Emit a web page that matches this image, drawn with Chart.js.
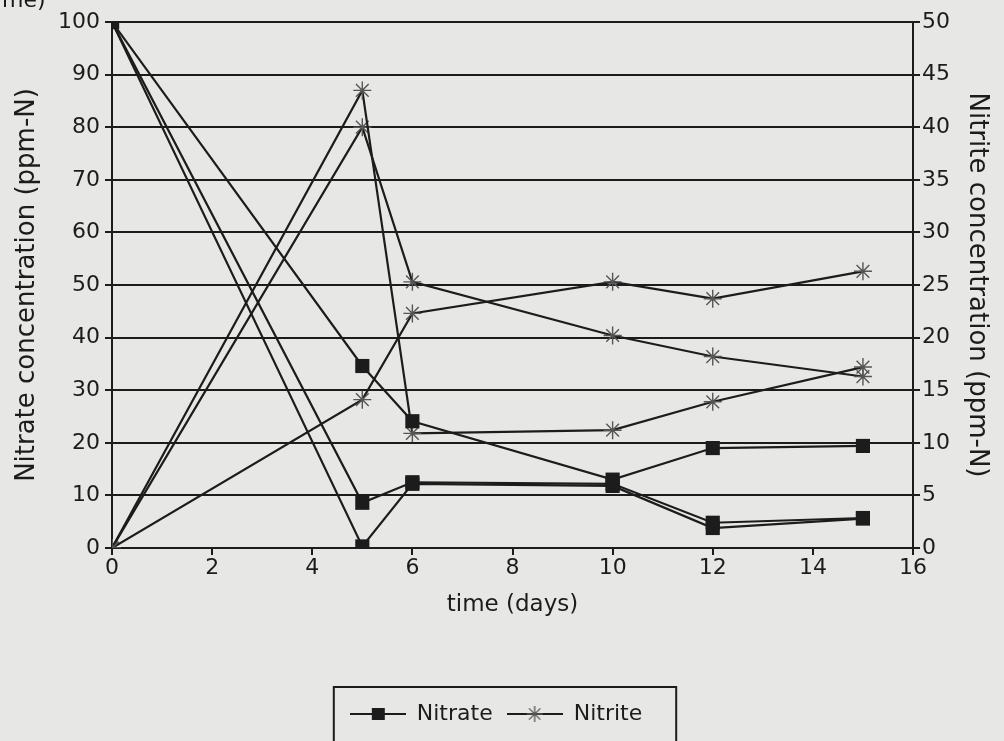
<!DOCTYPE html>
<html>
<head>
<meta charset="utf-8">
<script src="https://cdn.jsdelivr.net/npm/chart.js@4.4.1/dist/chart.umd.min.js"></script>
<style>
  html, body { margin: 0; padding: 0; background: #e7e7e5; }
  #wrap { position: relative; width: 1004px; height: 741px; overflow: hidden; }
  #frag { position: absolute; left: 2px; top: -13px; font: 22px "DejaVu Sans", sans-serif; color: #1a1a1a; }
</style>
</head>
<body>
<div id="wrap">
  <div id="frag">me)</div>
  <canvas id="myChart" width="1004" height="741"></canvas>
</div>
<script>
// days of sampling
const days = [0, 5, 6, 10, 12, 15];

// nitrate, ppm-N (left axis) - three runs
const nitrateA = [100, 0.3, 12.2, 11.8, 3.8, 5.6];
const nitrateB = [100, 8.6, 12.5, 12.2, 4.8, 5.7];
const nitrateC = [100, 34.6, 24.1, 13.0, 19.0, 19.4];

// nitrite, ppm-N (right axis) - three runs
const nitriteA = [0, 43.5, 10.9, 11.2, 13.9, 17.2];
const nitriteB = [0, 40.0, 25.3, 20.2, 18.2, 16.3];
const nitriteC = [0, 14.1, 22.3, 25.3, 23.7, 26.3];

const xTicks = [0, 2, 4, 6, 8, 10, 12, 14, 16];

const FONT = '"DejaVu Sans", sans-serif';
const INK = '#1c1c1c';

function pts(vals) {
    return days.map((d, i) => ({ x: d, y: vals[i] }));
}

// small pictures for the legend: line with marker
function makeIcon(kind) {
    const c = document.createElement('canvas');
    c.width = 56; c.height = 18;
    const g = c.getContext('2d');
    g.strokeStyle = INK;
    g.lineWidth = 2;
    g.beginPath(); g.moveTo(0, 9); g.lineTo(56, 9); g.stroke();
    if (kind === 'rect') {
        g.fillStyle = INK;
        g.fillRect(22, 3, 13, 12);
    } else {
        g.strokeStyle = '#555';
        g.lineWidth = 1.3;
        g.beginPath();
        for (let a = 0; a < 4; a++) {
            const t = a * Math.PI / 4;
            g.moveTo(28 - 8 * Math.cos(t), 9 - 8 * Math.sin(t));
            g.lineTo(28 + 8 * Math.cos(t), 9 + 8 * Math.sin(t));
        }
        g.stroke();
    }
    return c;
}
const nitrateIcon = makeIcon('rect');
const nitriteIcon = makeIcon('star');

function nitrateSet(vals) {
    return {
        label: 'Nitrate', data: pts(vals), yAxisID: 'y',
        borderColor: INK, backgroundColor: INK, borderWidth: 2.2,
        pointStyle: 'rect', pointRadius: 10, pointBackgroundColor: INK,
        pointBorderWidth: 0, tension: 0, fill: false
    };
}
function nitriteSet(vals) {
    return {
        label: 'Nitrite', data: pts(vals), yAxisID: 'y2',
        borderColor: INK, backgroundColor: INK, borderWidth: 2.2,
        pointStyle: 'star', pointRadius: 9, pointBorderColor: '#555',
        pointBorderWidth: 1.4, tension: 0, fill: false
    };
}

// box around the legend
const legendFrame = {
    id: 'legendFrame',
    afterDraw(chart) {
        const boxes = chart.legend.legendHitBoxes;
        if (!boxes || !boxes.length) return;
        const first = boxes[0], last = boxes[boxes.length - 1];
        const ctx = chart.ctx;
        ctx.save();
        ctx.strokeStyle = INK;
        ctx.lineWidth = 2;
        const l = first.left - 16, r = last.left + last.width + 34;
        const t = first.top - 16, b = first.top + first.height + 30;
        ctx.strokeRect(l, t, r - l, b - t);
        ctx.restore();
    }
};

const BOTTOM_PAD = 6;

const ctx = document.getElementById('myChart').getContext('2d');
new Chart(ctx, {
    type: 'line',
    data: {
        datasets: [
            nitrateSet(nitrateA), nitrateSet(nitrateB), nitrateSet(nitrateC),
            nitriteSet(nitriteA), nitriteSet(nitriteB), nitriteSet(nitriteC)
        ]
    },
    options: {
        responsive: false,
        animation: false,
        events: [],
        layout: { padding: { top: 22, left: 0, right: 12, bottom: BOTTOM_PAD } },
        plugins: {
            tooltip: { enabled: false },
            legend: {
                position: 'bottom',
                labels: {
                    color: INK,
                    font: { family: FONT, size: 22 },
                    usePointStyle: true,
                    pointStyleWidth: 56,
                    padding: 14,
                    filter: (item) => item.datasetIndex === 0 || item.datasetIndex === 3,
                    generateLabels(chart) {
                        const items = Chart.defaults.plugins.legend.labels.generateLabels(chart);
                        items.forEach(it => {
                            it.pointStyle = it.datasetIndex < 3 ? nitrateIcon : nitriteIcon;
                        });
                        return items;
                    }
                }
            }
        },
        scales: {
            x: {
                type: 'linear', min: 0, max: 16,
                afterBuildTicks: (s) => { s.ticks = xTicks.map(v => ({ value: v })); },
                afterFit: (s) => { s.height = 741 - 548 - s.chart.legend.height - BOTTOM_PAD; },
                grid: { drawOnChartArea: false, drawTicks: true, tickLength: 7, color: INK, lineWidth: 2 },
                border: { color: INK, width: 2 },
                ticks: { color: INK, font: { family: FONT, size: 22 }, padding: 0, maxRotation: 0 },
                title: { display: true, text: 'time (days)', color: INK, font: { family: FONT, size: 23 }, padding: { top: 2, bottom: 70 } }
            },
            y: {
                position: 'left', min: 0, max: 100,
                afterFit: (s) => { s.width = 112; },
                grid: { color: INK, lineWidth: 2, tickLength: 7 },
                border: { color: INK, width: 2 },
                ticks: { stepSize: 10, color: INK, font: { family: FONT, size: 22 }, padding: 5 },
                title: { display: true, text: 'Nitrate concentration (ppm-N)', color: INK, font: { family: FONT, size: 26 }, padding: { top: 12, bottom: 0 } }
            },
            y2: {
                position: 'right', min: 0, max: 50,
                afterFit: (s) => { s.width = 79; },
                grid: { drawOnChartArea: false, color: INK, lineWidth: 2, tickLength: 7 },
                border: { color: INK, width: 2 },
                ticks: { stepSize: 5, color: INK, font: { family: FONT, size: 22 }, padding: 2 },
                title: { display: true, text: 'Nitrite concentration (ppm-N)', color: INK, font: { family: FONT, size: 26 }, padding: { top: 0, bottom: 0 } }
            }
        }
    },
    plugins: [legendFrame]
});
</script>
</body>
</html>
